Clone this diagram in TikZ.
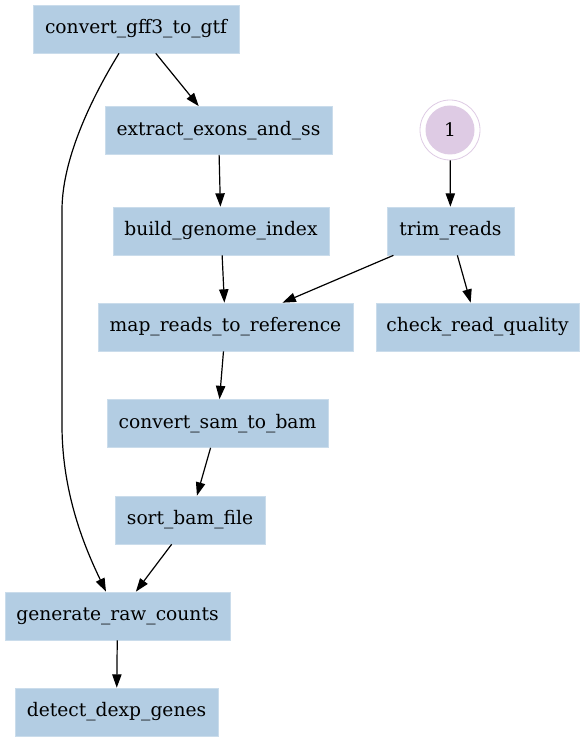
\documentclass[tikz,border=0pt]{standalone}
\usepackage{fontspec}
\setmainfont{DejaVu Serif}
\usetikzlibrary{arrows.meta}
\definecolor{boxfill}{HTML}{B3CDE3}
\definecolor{circfill}{HTML}{DECBE4}
\tikzset{
  box/.style={rectangle, fill=boxfill, draw=boxfill!70!white, line width=0.5pt, inner sep=0pt, minimum height=48*0.75pt, font=\fontsize{14pt}{16pt}\selectfont, text=black},
  edge/.style={draw=black, line width=0.9pt, -{Triangle[length=10pt,width=7pt]}},
  outerc/.style={circle, draw=circfill, line width=0.6pt, fill=white, minimum size=60*0.75pt, inner sep=0pt},
  innerc/.style={circle, fill=circfill, minimum size=49*0.75pt, inner sep=0pt, font=\fontsize{14pt}{16pt}\selectfont}
}
\begin{document}
\begin{tikzpicture}[x=0.75pt,y=-0.75pt]
\useasboundingbox (0,0) rectangle (584,741);
\node[box, minimum width=206*0.75pt] (gff) at (136,29) {convert\_gff3\_to\_gtf};
\node[box, minimum width=227*0.75pt] (extract) at (218.5,130.5) {extract\_exons\_and\_ss};
\node[box, minimum width=216*0.75pt] (build) at (221,231) {build\_genome\_index};
\node[box, minimum width=255*0.75pt] (map) at (225.5,327) {map\_reads\_to\_reference};
\node[box, minimum width=221*0.75pt] (conv) at (217.5,423.5) {convert\_sam\_to\_bam};
\node[box, minimum width=150*0.75pt] (sort) at (190,520) {sort\_bam\_file};
\node[box, minimum width=225*0.75pt] (gen) at (117.5,616) {generate\_raw\_counts};
\node[box, minimum width=203*0.75pt] (detect) at (116.5,712) {detect\_dexp\_genes};
\node[box, minimum width=127*0.75pt] (trim) at (450.5,231) {trim\_reads};
\node[box, minimum width=203*0.75pt] (check) at (477.5,327) {check\_read\_quality};
\node[outerc] (one) at (450,130) {};
\node[innerc] (onein) at (one.center) {1};

\draw[edge] (gff) -- (extract);
\draw[edge] (extract) -- (build);
\draw[edge] (build) -- (map);
\draw[edge] (map) -- (conv);
\draw[edge] (conv) -- (sort);
\draw[edge] (sort) -- (gen);
\draw[edge] (gen) -- (detect);
\draw[edge] (one) -- (trim);
\draw[edge] (trim) -- (map);
\draw[edge] (trim) -- (check);
\draw[edge] ([xshift=-17*0.75pt]gff.south) .. controls +(-16,26) and (62,150) .. (62,210) -- (62,425) .. controls (62,495) and (86,550) .. ([xshift=-11.5*0.75pt]gen.north);
\end{tikzpicture}
\end{document}
